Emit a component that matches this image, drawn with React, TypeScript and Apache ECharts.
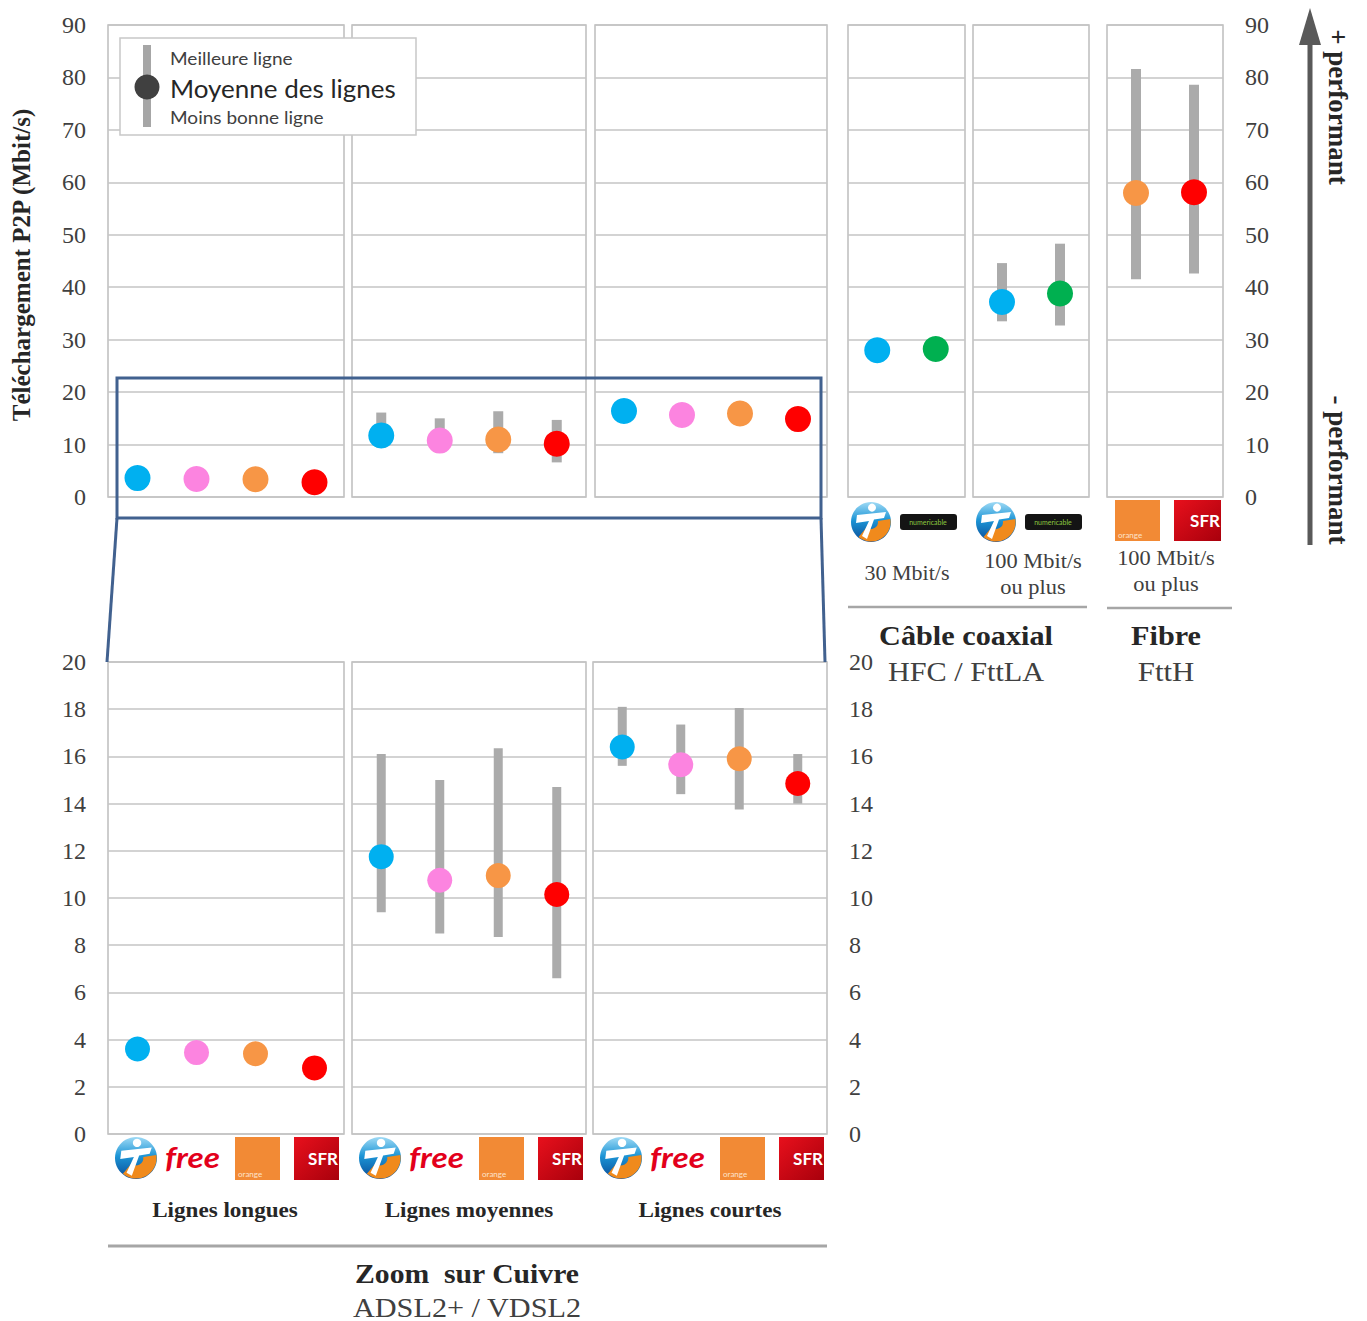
import React, { useEffect, useRef } from "react";
import * as echarts from "echarts";

// ---------------- DATA ----------------
const copperCategories = ["Bouygues Telecom", "Free", "Orange", "SFR"];
const copperColors = ["#00b0f0", "#fc84e0", "#f79646", "#ff0000"];

const longMean = [3.6, 3.45, 3.4, 2.8];
const longMax = [3.9, 3.75, 3.7, 3.1];
const longMin = [3.3, 3.2, 3.1, 2.5];

const mediumMean = [11.75, 10.75, 10.95, 10.15];
const mediumMax = [16.1, 15.0, 16.35, 14.7];
const mediumMin = [9.4, 8.5, 8.35, 6.6];

const shortMean = [16.4, 15.65, 15.9, 14.85];
const shortMax = [18.1, 17.35, 18.05, 16.1];
const shortMin = [15.6, 14.4, 13.75, 14.0];

const cableCategories = ["Bouygues Telecom", "Numericable"];
const cableColors = ["#00b0f0", "#00b050"];
const cable30Mean = [28.0, 28.2];
const cable30Max = [29.0, 29.2];
const cable30Min = [27.0, 27.2];
const cable100Mean = [37.2, 38.8];
const cable100Max = [44.6, 48.3];
const cable100Min = [33.5, 32.7];

const fibreCategories = ["Orange", "SFR"];
const fibreColors = ["#f79646", "#ff0000"];
const fibreMean = [57.95, 58.1];
const fibreMax = [81.6, 78.6];
const fibreMin = [41.5, 42.6];

const topAxisMax = 90;
const topAxisStep = 10;
const zoomAxisMax = 20;
const zoomAxisStep = 2;

const copperGroupLabels = ["Lignes longues", "Lignes moyennes", "Lignes courtes"];
const yAxisTitle = "Téléchargement P2P (Mbit/s)";

// ---------------- LAYOUT ----------------
const W = 1367;
const H = 1321;
const SERIF = '"Liberation Serif", "DejaVu Serif", serif';
const SANS = 'Lato, "Open Sans", sans-serif';
const TOP_Y = 25;
const TOP_H = 472;
const BOT_Y = 662;
const BOT_H = 472;

type Panel = {
  left: number;
  top: number;
  width: number;
  height: number;
  cats: string[];
  colors: string[];
  mean: number[];
  max: number[];
  min: number[];
  yMax: number;
  step: number;
  labelSide?: "left" | "right";
  dot: number;
  bar: number;
};

const panels: Panel[] = [
  { left: 108, top: TOP_Y, width: 236, height: TOP_H, cats: copperCategories, colors: copperColors, mean: longMean, max: longMax, min: longMin, yMax: topAxisMax, step: topAxisStep, labelSide: "left", dot: 26, bar: 10 },
  { left: 352, top: TOP_Y, width: 234, height: TOP_H, cats: copperCategories, colors: copperColors, mean: mediumMean, max: mediumMax, min: mediumMin, yMax: topAxisMax, step: topAxisStep, dot: 26, bar: 10 },
  { left: 595, top: TOP_Y, width: 232, height: TOP_H, cats: copperCategories, colors: copperColors, mean: shortMean, max: shortMax, min: shortMin, yMax: topAxisMax, step: topAxisStep, dot: 26, bar: 10 },
  { left: 848, top: TOP_Y, width: 117, height: TOP_H, cats: cableCategories, colors: cableColors, mean: cable30Mean, max: cable30Max, min: cable30Min, yMax: topAxisMax, step: topAxisStep, dot: 26, bar: 10 },
  { left: 973, top: TOP_Y, width: 116, height: TOP_H, cats: cableCategories, colors: cableColors, mean: cable100Mean, max: cable100Max, min: cable100Min, yMax: topAxisMax, step: topAxisStep, dot: 26, bar: 10 },
  { left: 1107, top: TOP_Y, width: 116, height: TOP_H, cats: fibreCategories, colors: fibreColors, mean: fibreMean, max: fibreMax, min: fibreMin, yMax: topAxisMax, step: topAxisStep, labelSide: "right", dot: 26, bar: 10 },
  { left: 108, top: BOT_Y, width: 236, height: BOT_H, cats: copperCategories, colors: copperColors, mean: longMean, max: longMax, min: longMin, yMax: zoomAxisMax, step: zoomAxisStep, labelSide: "left", dot: 25, bar: 9 },
  { left: 352, top: BOT_Y, width: 234, height: BOT_H, cats: copperCategories, colors: copperColors, mean: mediumMean, max: mediumMax, min: mediumMin, yMax: zoomAxisMax, step: zoomAxisStep, dot: 25, bar: 9 },
  { left: 593, top: BOT_Y, width: 234, height: BOT_H, cats: copperCategories, colors: copperColors, mean: shortMean, max: shortMax, min: shortMin, yMax: zoomAxisMax, step: zoomAxisStep, labelSide: "right", dot: 25, bar: 9 },
];

// ---------------- GRAPHIC HELPERS ----------------
function txt(x: number, y: number, text: string, size: number, opts: any = {}) {
  return {
    type: "text",
    x,
    y,
    rotation: opts.rotation || 0,
    scaleX: opts.sx || 1,
    scaleY: opts.sy || 1,
    z: 100,
    style: {
      text,
      fontSize: size,
      fontFamily: opts.family || SERIF,
      fontWeight: opts.weight || "normal",
      fontStyle: opts.style || "normal",
      fill: opts.color || "#262626",
      textAlign: opts.align || "center",
      align: opts.align || "center",
      textVerticalAlign: "middle",
      verticalAlign: "middle",
    },
  };
}

function bouygues(cx: number, cy: number, r: number) {
  return {
    type: "group",
    x: cx,
    y: cy,
    z: 100,
    children: [
      {
        type: "circle",
        shape: { cx: 0, cy: 0, r },
        style: {
          fill: { type: "linear", x: 0, y: 0, x2: 0, y2: 1, colorStops: [
            { offset: 0, color: "#9fdaf5" },
            { offset: 0.45, color: "#1c95d6" },
            { offset: 1, color: "#0a4c98" },
          ] },
        },
      },
      {
        type: "sector",
        shape: { cx: 0, cy: 0, r: r * 0.98, r0: r * 0.35, startAngle: -0.15, endAngle: Math.PI * 0.72 },
        style: { fill: "#f08a1c" },
      },
      {
        type: "polygon",
        shape: { points: [[-r * 0.7, -r * 0.35], [r * 0.75, -r * 0.5], [r * 0.65, -r * 0.2], [r * 0.15, -r * 0.12], [-r * 0.2, r * 0.85], [-r * 0.45, r * 0.7], [-r * 0.1, -r * 0.05], [-r * 0.75, r * 0.05]] },
        style: { fill: "#ffffff" },
      },
      { type: "circle", shape: { cx: r * 0.05, cy: -r * 0.72, r: r * 0.2 }, style: { fill: "#ffffff" } },
    ],
  };
}

function freeLogo(x: number, y: number) {
  return txt(x, y, "free", 29, { family: SANS, weight: "bold", style: "italic", color: "#e3001b", align: "left", sx: 1.15 });
}

function orangeLogo(x: number, y: number, w: number, h: number) {
  return {
    type: "group",
    x,
    y,
    z: 100,
    children: [
      { type: "rect", shape: { x: 0, y: 0, width: w, height: h }, style: { fill: "#f28a35" } },
      txt(3, h - 6, "orange", 8, { family: SANS, color: "#fde3cc", align: "left" }),
    ],
  };
}

function sfrLogo(x: number, y: number, w: number, h: number) {
  return {
    type: "group",
    x,
    y,
    z: 100,
    children: [
      {
        type: "rect",
        shape: { x: 0, y: 0, width: w, height: h },
        style: { fill: { type: "linear", x: 0, y: 0, x2: 1, y2: 1, colorStops: [
          { offset: 0, color: "#e8101c" },
          { offset: 1, color: "#a8000c" },
        ] } },
      },
      txt(w - 1, h / 2, "SFR", 17, { family: SANS, weight: "bold", color: "#ffffff", align: "right" }),
    ],
  };
}

function numericable(x: number, y: number) {
  return {
    type: "group",
    x,
    y,
    z: 100,
    children: [
      { type: "rect", shape: { x: 0, y: 0, width: 57, height: 16, r: 3 }, style: { fill: "#141414" } },
      txt(28, 8, "numericable", 7, { family: SANS, color: "#8cc63f" }),
    ],
  };
}

function buildGraphics() {
  const g: any[] = [];
  // Legend
  g.push({ type: "rect", z: 90, shape: { x: 120, y: 38, width: 296, height: 97 }, style: { fill: "#ffffff", stroke: "#c8c8c8", lineWidth: 1.5 } });
  g.push({ type: "rect", z: 91, shape: { x: 143, y: 45, width: 8, height: 82 }, style: { fill: "#a6a6a6" } });
  g.push({ type: "circle", z: 92, shape: { cx: 147, cy: 87, r: 12.5 }, style: { fill: "#404040" } });
  g.push(txt(170, 58, "Meilleure ligne", 17, { family: SANS, color: "#404040", align: "left", sx: 1.12 }));
  g.push(txt(170, 88, "Moyenne des lignes", 25, { family: SANS, color: "#262626", align: "left", sx: 1.04 }));
  g.push(txt(170, 117, "Moins bonne ligne", 17, { family: SANS, color: "#404040", align: "left", sx: 1.12 }));

  // Zoom rectangle and connectors
  const blue = "#41618f";
  g.push({ type: "rect", z: 95, shape: { x: 117, y: 378, width: 704, height: 140 }, style: { fill: "none", stroke: blue, lineWidth: 3 } });
  g.push({ type: "line", z: 95, shape: { x1: 117, y1: 518, x2: 107, y2: 662 }, style: { stroke: blue, lineWidth: 3 } });
  g.push({ type: "line", z: 95, shape: { x1: 821, y1: 518, x2: 825, y2: 662 }, style: { stroke: blue, lineWidth: 3 } });

  // Y axis title
  g.push(txt(21, 265, yAxisTitle, 25, { weight: "bold", rotation: Math.PI / 2 }));

  // Performance arrow
  g.push({ type: "line", z: 95, shape: { x1: 1310, y1: 545, x2: 1310, y2: 40 }, style: { stroke: "#595959", lineWidth: 5 } });
  g.push({ type: "polygon", z: 95, shape: { points: [[1299, 45], [1310, 8], [1321, 45]] }, style: { fill: "#595959" } });
  g.push(txt(1338, 107, "+ performant", 27, { weight: "bold", rotation: -Math.PI / 2 }));
  g.push(txt(1338, 470, "- performant", 27, { weight: "bold", rotation: -Math.PI / 2 }));

  // Copper logos & labels
  const copperLefts = [108, 352, 593];
  copperLefts.forEach((l, i) => {
    g.push(bouygues(l + 28, 1158, 21));
    g.push(freeLogo(l + 57, 1157));
    g.push(orangeLogo(l + 127, 1137, 45, 43));
    g.push(sfrLogo(l + 186, 1137, 45, 43));
    g.push(txt(l + 117, 1210, copperGroupLabels[i], 21, { weight: "bold", sx: 1.1 }));
  });
  g.push({ type: "line", z: 95, shape: { x1: 108, y1: 1246, x2: 827, y2: 1246 }, style: { stroke: "#a6a6a6", lineWidth: 3 } });
  g.push(txt(467, 1273, "Zoom  sur Cuivre", 28, { weight: "bold", sx: 1.06 }));
  g.push(txt(467, 1307, "ADSL2+ / VDSL2", 28, { color: "#404040", sx: 1.08 }));

  // Cable logos & labels
  g.push(bouygues(871, 522, 20));
  g.push(numericable(900, 514));
  g.push(bouygues(996, 522, 20));
  g.push(numericable(1025, 514));
  g.push(txt(907, 573, "30 Mbit/s", 20, { color: "#404040", sx: 1.1 }));
  g.push(txt(1033, 561, "100 Mbit/s", 20, { color: "#404040", sx: 1.12 }));
  g.push(txt(1033, 587, "ou plus", 20, { color: "#404040", sx: 1.12 }));
  // Fibre logos & labels
  g.push(orangeLogo(1115, 500, 45, 41));
  g.push(sfrLogo(1174, 500, 47, 41));
  g.push(txt(1166, 558, "100 Mbit/s", 20, { color: "#404040", sx: 1.12 }));
  g.push(txt(1166, 584, "ou plus", 20, { color: "#404040", sx: 1.12 }));

  g.push({ type: "line", z: 95, shape: { x1: 848, y1: 607, x2: 1087, y2: 607 }, style: { stroke: "#a6a6a6", lineWidth: 2.5 } });
  g.push({ type: "line", z: 95, shape: { x1: 1107, y1: 608, x2: 1232, y2: 608 }, style: { stroke: "#a6a6a6", lineWidth: 2.5 } });
  g.push(txt(966, 636, "Câble coaxial", 27, { weight: "bold", sx: 1.12 }));
  g.push(txt(966, 671, "HFC / FttLA", 28, { color: "#404040", sx: 1.08 }));
  g.push(txt(1166, 636, "Fibre", 27, { weight: "bold", sx: 1.12 }));
  g.push(txt(1166, 671, "FttH", 28, { color: "#404040", sx: 1.1 }));
  return g;
}

function buildOption() {
  const series: any[] = [];
  panels.forEach((p, i) => {
    const bw = p.bar;
    series.push({
      type: "custom",
      xAxisIndex: i,
      yAxisIndex: i,
      z: 2,
      encode: { x: 0, y: [1, 2] },
      data: p.cats.map((_, k) => [k, p.min[k], p.max[k]]),
      renderItem: (params: any, api: any) => {
        const lo = api.coord([api.value(0), api.value(1)]);
        const hi = api.coord([api.value(0), api.value(2)]);
        return {
          type: "rect",
          shape: { x: lo[0] - bw / 2, y: hi[1], width: bw, height: lo[1] - hi[1] },
          style: { fill: "#ababab" },
        };
      },
    });
    series.push({
      type: "scatter",
      xAxisIndex: i,
      yAxisIndex: i,
      z: 3,
      symbol: "circle",
      symbolSize: p.dot,
      data: p.cats.map((_, k) => ({ value: [k, p.mean[k]], itemStyle: { color: p.colors[k], opacity: 1 } })),
    });
  });

  return {
    animation: false,
    backgroundColor: "#ffffff",
    grid: panels.map((p) => ({
      left: p.left,
      top: p.top,
      width: p.width,
      height: p.height,
      show: true,
      borderColor: "#bdbdbd",
      borderWidth: 1.5,
      backgroundColor: "transparent",
      containLabel: false,
      outerBoundsMode: "none",
    })),
    xAxis: panels.map((p, i) => ({
      type: "category",
      gridIndex: i,
      data: p.cats,
      boundaryGap: true,
      axisLine: { show: false },
      axisTick: { show: false },
      axisLabel: { show: false },
      splitLine: { show: false },
    })),
    yAxis: panels.map((p, i) => ({
      type: "value",
      gridIndex: i,
      min: 0,
      max: p.yMax,
      interval: p.step,
      position: p.labelSide === "right" ? "right" : "left",
      axisLine: { show: false },
      axisTick: { show: false },
      axisLabel: {
        show: !!p.labelSide,
        margin: 22,
        fontFamily: SERIF,
        fontSize: 24,
        color: "#404040",
      },
      splitLine: { show: true, lineStyle: { color: "#c4c4c4", width: 1.5 } },
    })),
    series,
    graphic: { elements: buildGraphics() },
  };
}

export default function App() {
  const ref = useRef<HTMLDivElement>(null);
  useEffect(() => {
    document.body.style.margin = "0";
    if (!ref.current) return;
    const chart = echarts.init(ref.current, undefined, { renderer: "svg" });
    chart.setOption(buildOption() as any);
    return () => chart.dispose();
  }, []);
  return <div ref={ref} style={{ position: "absolute", left: 0, top: 0, width: W, height: H, background: "#fff" }} />;
}
